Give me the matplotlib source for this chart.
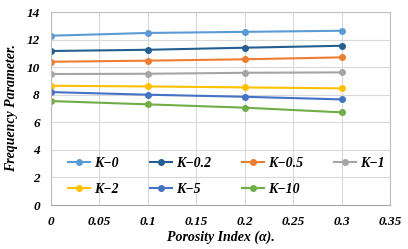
import matplotlib
matplotlib.use('Agg')
import matplotlib.pyplot as plt

# データ
porosity = [0, 0.1, 0.2, 0.3]
labels = ['K\u22120', 'K\u22120.2', 'K\u22120.5', 'K\u22121', 'K\u22122', 'K\u22125', 'K\u221210']
k0 = [12.28, 12.48, 12.56, 12.64]
k02 = [11.17, 11.26, 11.41, 11.55]
k05 = [10.39, 10.47, 10.57, 10.71]
k1 = [9.50, 9.52, 9.59, 9.62]
k2 = [8.65, 8.60, 8.53, 8.46]
k5 = [8.19, 8.00, 7.85, 7.66]
k10 = [7.54, 7.30, 7.06, 6.72]
series = [k0, k02, k05, k1, k2, k5, k10]
colors = ['#5B9BD5', '#255E91', '#ED7D31', '#A5A5A5', '#FFC000', '#4472C4', '#70AD47']

font = {'family': 'Liberation Serif', 'weight': 'bold', 'style': 'italic'}

fig = plt.figure(figsize=(4.08, 2.49), dpi=100)
ax = fig.add_axes([51 / 408, 44 / 249, 339 / 408, 193 / 249])

lines = []
for vals, lab, c in zip(series, labels, colors):
    ln, = ax.plot(porosity, vals, color=c, marker='o', markersize=4, linewidth=1.5, label=lab)
    lines.append(ln)

ax.set_xlim(0, 0.35)
ax.set_ylim(0, 14)
ax.set_xticks([0, 0.05, 0.1, 0.15, 0.2, 0.25, 0.3, 0.35])
ax.set_xticklabels(['0', '0.05', '0.1', '0.15', '0.2', '0.25', '0.3', '0.35'], fontdict=font, fontsize=9.5)
ax.set_yticks(range(0, 15, 2))
ax.set_yticklabels([str(v) for v in range(0, 15, 2)], fontdict=font, fontsize=9.5)
ax.tick_params(length=0, pad=8)
ax.grid(True, color='#D9D9D9', linewidth=0.8)
ax.set_axisbelow(True)
for s in ['top', 'right', 'left']:
    ax.spines[s].set_color('#BFBFBF')
    ax.spines[s].set_linewidth(0.8)
ax.spines['bottom'].set_color('#A6A6A6')

ax.set_xlabel('Porosity Index (\u03b1).', fontdict=font, fontsize=10, labelpad=2)
ax.set_ylabel('Frequency Parameter.', fontdict=font, fontsize=10, labelpad=6)

# 凡例は行方向に並べる
order = [0, 4, 1, 5, 2, 6, 3]
ax.legend([lines[i] for i in order], [labels[i] for i in order],
          ncol=4, loc='center left', bbox_to_anchor=(0.05, 0.148), frameon=False,
          borderpad=0, borderaxespad=0,
          prop={'family': 'Liberation Serif', 'weight': 'bold', 'style': 'italic', 'size': 10},
          handlelength=1.6, columnspacing=2.2, handletextpad=0.3, labelspacing=0.95)

fig.savefig('out.png', dpi=100)
